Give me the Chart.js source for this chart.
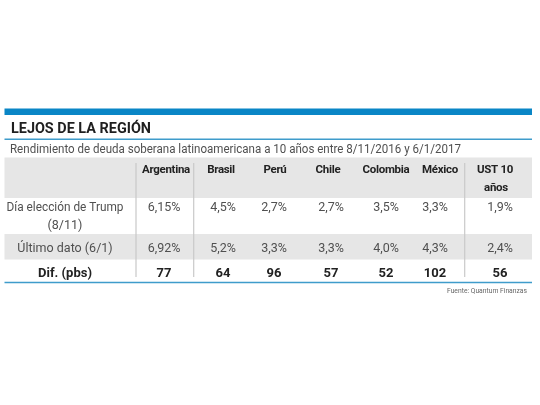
<!DOCTYPE html>
<html>
<head>
<meta charset="utf-8">
<style>
  html, body { margin: 0; padding: 0; background: #ffffff; }
  canvas { display: block; }
</style>
<script src="https://cdn.jsdelivr.net/npm/chart.js@4/dist/chart.umd.min.js"></script>
</head>
<body>
<canvas id="tabla" width="540" height="405"></canvas>
<script>
const titulo = "LEJOS DE LA REGIÓN";
const subtitulo = "Rendimiento de deuda soberana latinoamericana a 10 años entre 8/11/2016 y 6/1/2017";
const fuente = "Fuente: Quantum Finanzas";

const columnas = ["Argentina", "Brasil", "Perú", "Chile", "Colombia", "México", "UST 10"];
const filaEleccion = [6.15, 4.5, 2.7, 2.7, 3.5, 3.3, 1.9];
const filaUltimo = [6.92, 5.2, 3.3, 3.3, 4.0, 4.3, 2.4];
const filaDif = [77, 64, 96, 57, 52, 102, 56];

// layout, in the 540x405 page space used by both scales
const X_HEADER = [166, 221, 275, 328, 386, 440, 495];
const X_VALUE = [164, 223, 274, 331, 386, 435, 500];
const X_LABEL = 65;
const LEFT = 4.5;
const RIGHT = 532;

const COLORS = {
  BLUE_BAR: "#0a86c6",
  BLUE_RULE: "#3f9ccb",
  BAND: "#e6e6e6",
  SEPARATOR: "#c9c9c9",
  TITLE: "#1f1f1f",
  TEXT: "#505050",
  BOLD: "#222222"
};

const FONT = "Roboto, sans-serif";

function pct(v) {
  return v.toLocaleString("es-AR", { minimumFractionDigits: 1, maximumFractionDigits: 2 }) + "%";
}

function rule(x1, y1, x2, y2, color, width) {
  return {
    type: "scatter",
    showLine: true,
    data: [{ x: x1, y: y1 }, { x: x2, y: y2 }],
    borderColor: color,
    borderWidth: width,
    borderCapStyle: "butt",
    pointRadius: 0
  };
}

// one text per point, drawn by the plugin below at the point's scaled position
function textRow(xs, y, texts, font, color, opts) {
  return {
    type: "scatter",
    showLine: false,
    data: xs.map((x) => ({ x: x, y: y })),
    pointRadius: 0,
    texts: texts,
    font: font,
    textColor: color,
    align: (opts && opts.align) || "center",
    maxWidth: opts && opts.maxWidth,
    spacing: (opts && opts.spacing) || "0px"
  };
}

const tableText = {
  id: "tableText",
  afterDatasetsDraw(chart) {
    const ctx = chart.ctx;
    chart.data.datasets.forEach((ds, i) => {
      if (!ds.texts) {
        return;
      }
      ctx.save();
      ctx.font = ds.font;
      ctx.letterSpacing = ds.spacing;
      ctx.fillStyle = ds.textColor;
      ctx.textAlign = ds.align;
      ctx.textBaseline = "middle";
      chart.getDatasetMeta(i).data.forEach((el, j) => {
        if (ds.maxWidth) {
          ctx.fillText(ds.texts[j], el.x, el.y, ds.maxWidth);
        } else {
          ctx.fillText(ds.texts[j], el.x, el.y);
        }
      });
      ctx.restore();
    });
  }
};

const header = "bold 11.5px " + FONT;
const body = "12.5px " + FONT;
const bold = "bold 13px " + FONT;
const tight = { spacing: "-0.3px" };

new Chart(document.getElementById("tabla"), {
  type: "scatter",
  data: {
    // Chart.js paints the first dataset last, so the separators go ahead of the bands
    datasets: [
      rule(136, 163, 136, 277, COLORS.SEPARATOR, 1.2),
      rule(193.7, 163, 193.7, 277, COLORS.SEPARATOR, 1.2),
      rule(464.7, 163, 464.7, 277, COLORS.SEPARATOR, 1.2),
      rule(LEFT, 111.8, RIGHT, 111.8, COLORS.BLUE_BAR, 6.5),
      rule(LEFT, 139.2, RIGHT, 139.2, COLORS.BLUE_RULE, 1.5),
      rule(LEFT, 177.7, RIGHT, 177.7, COLORS.BAND, 40.5),
      rule(LEFT, 246.8, RIGHT, 246.8, COLORS.BAND, 25.5),
      rule(LEFT, 282.5, RIGHT, 282.5, COLORS.BLUE_RULE, 1.5),

      textRow([11], 129, [titulo], "bold 15px " + FONT, COLORS.TITLE, { align: "left", maxWidth: 140 }),
      textRow([10], 150, [subtitulo], "12.5px " + FONT, COLORS.TEXT, { align: "left", maxWidth: 451 }),

      textRow(X_HEADER, 170.5, columnas, header, COLORS.BOLD, tight),
      textRow([X_VALUE[6] - 4], 188, ["años"], header, COLORS.BOLD, tight),

      textRow([X_LABEL], 207.5, ["Día elección de Trump"], body, COLORS.TEXT, { maxWidth: 117 }),
      textRow([X_LABEL], 225.5, ["(8/11)"], body, COLORS.TEXT),
      textRow(X_VALUE, 207.5, filaEleccion.map(pct), body, COLORS.TEXT),

      textRow([X_LABEL], 249, ["Último dato (6/1)"], body, COLORS.TEXT),
      textRow(X_VALUE, 249, filaUltimo.map(pct), body, COLORS.TEXT),

      textRow([X_LABEL], 273.5, ["Dif. (pbs)"], bold, COLORS.BOLD),
      textRow(X_VALUE, 273.5, filaDif.map(String), bold, COLORS.BOLD),

      textRow([527], 291, [fuente], "8px " + FONT, "#666666", { align: "right", maxWidth: 80 })
    ]
  },
  options: {
    responsive: false,
    animation: false,
    layout: { padding: 0 },
    plugins: {
      legend: { display: false },
      tooltip: { enabled: false }
    },
    scales: {
      x: { type: "linear", display: false, min: 0, max: 540 },
      y: { type: "linear", display: false, min: 0, max: 405, reverse: true }
    }
  },
  plugins: [tableText]
});
</script>
</body>
</html>
